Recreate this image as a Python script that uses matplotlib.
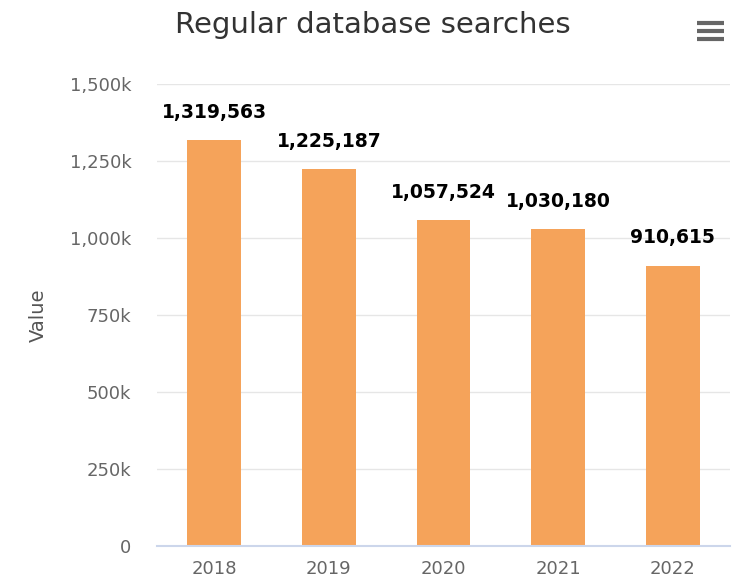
import matplotlib
matplotlib.use("Agg")
import matplotlib.pyplot as plt
from matplotlib.lines import Line2D

years = ["2018", "2019", "2020", "2021", "2022"]
values = [1319563, 1225187, 1057524, 1030180, 910615]
yticks = [0, 250000, 500000, 750000, 1000000, 1250000, 1500000]
ytick_labels = ["0", "250k", "500k", "750k", "1,000k", "1,250k", "1,500k"]
title = "Regular database searches"
ylabel = "Value"

plt.rcParams["font.family"] = ["DejaVu Sans"]

fig = plt.figure(figsize=(7.44, 5.83), dpi=100)
ax = fig.add_axes([157/744, 1-546/583, 573/744, 462/583])

x = range(len(years))
ax.bar(x, values, width=0.47, color="#f5a35a", zorder=3)
ax.set_xlim(-0.5, len(years) - 0.5)
ax.set_ylim(0, 1500000)
ax.set_yticks(yticks)
ax.set_yticklabels(ytick_labels, color="#666666", fontsize=13)
ax.set_xticks(list(x))
ax.set_xticklabels(years, color="#666666", fontsize=13)
ax.tick_params(axis="y", length=0, pad=18.5)
ax.tick_params(axis="x", length=0, pad=10)
ax.grid(axis="y", color="#e6e6e6", linewidth=1, zorder=0)
for s in ["top", "right", "left"]:
    ax.spines[s].set_visible(False)
ax.spines["bottom"].set_color("#ccd6eb")
ax.spines["bottom"].set_linewidth(1.5)
ax.spines["bottom"].set_zorder(4)

for xi, v in zip(x, values):
    ax.annotate(f"{v:,}", (xi, v), xytext=(0, 13), textcoords="offset points",
                ha="center", va="bottom", fontsize=13.5, fontweight="bold", color="#000000")

ax.set_ylabel(ylabel, color="#555555", fontsize=14)
ax.yaxis.set_label_coords(-0.19, 0.5)

fig.text(373/744, 1-25/583, title, ha="center", va="center", fontsize=21, color="#333333")

for yy in [23, 31, 39]:
    fig.add_artist(Line2D([697/744, 724/744], [1-yy/583, 1-yy/583], color="#666666",
                          linewidth=3, solid_capstyle="butt"))

fig.savefig("out.png", dpi=100)
